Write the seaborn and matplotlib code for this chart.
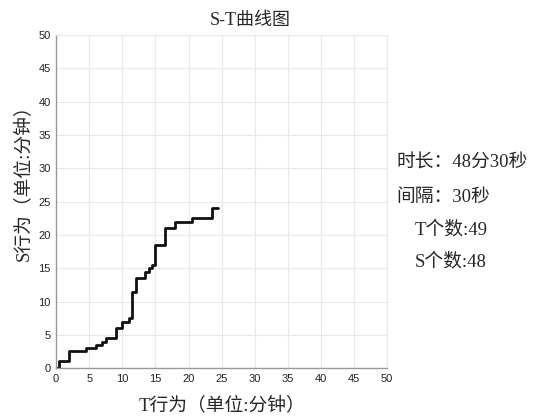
import matplotlib
matplotlib.use("Agg")
import matplotlib.pyplot as plt
import seaborn as sns
import pandas as pd

# Data: S-T curve vertices (minutes)
t_vals = [0, 0.5, 2, 4.5, 6, 7, 7.5, 9, 10, 11, 11.5, 12, 13.5, 14, 14.5, 15, 16.5, 18, 20.5, 23.5, 24.5]
s_vals = [0, 1, 2.5, 3, 3.5, 4, 4.5, 6, 7, 7.5, 11.5, 13.5, 14.5, 15, 15.5, 18.5, 21, 22, 22.5, 24, 24]
ticks = [0, 5, 10, 15, 20, 25, 30, 35, 40, 45, 50]
info_lines = ["时长：48分30秒", "间隔：30秒", "T个数:49", "S个数:48"]

sns.set_style("whitegrid")
plt.rcParams['font.family'] = ['Liberation Serif', 'Noto Sans CJK SC', 'DejaVu Sans']

df = pd.DataFrame({"T": t_vals, "S": s_vals})

fig = plt.figure(figsize=(5.34, 4.16), dpi=100)
ax = fig.add_axes([0.105, 0.115, 0.62, 0.801])

sns.lineplot(data=df, x="T", y="S", ax=ax, sort=False, estimator=None,
             drawstyle="steps-post", color="#111111", linewidth=2.0)

ax.set_xlim(0, 50)
ax.set_ylim(0, 50)
ax.set_xticks(ticks)
ax.set_yticks(ticks)
for lab in ax.get_xticklabels() + ax.get_yticklabels():
    lab.set_family(['Liberation Sans'])
    lab.set_fontsize(8)
ax.tick_params(axis='both', length=2, pad=2, colors="#222222")
ax.grid(True, color="#e8e8e8", linewidth=0.8)
for side in ["top", "right"]:
    ax.spines[side].set_color("#e8e8e8")
for side in ["left", "bottom"]:
    ax.spines[side].set_color("#999999")
    ax.spines[side].set_linewidth(1.0)

fig.text(250/534, 1 - 20/416, "S-T曲线图", fontsize=13, ha="center", va="center")
ax.set_xlabel("T行为（单位:分钟）", fontsize=13.5)
ax.xaxis.set_label_coords(0.5, -(406 - 368) / 333, transform=ax.transAxes)
ax.set_ylabel("S行为（单位:分钟）", fontsize=13.5)
ax.yaxis.set_label_coords(-(56 - 24) / 331, (368 - 178) / 333, transform=ax.transAxes)
ax.xaxis.label.set_verticalalignment("center")
ax.yaxis.label.set_verticalalignment("center")

fig.text(396/534, 1 - 163/416, info_lines[0], fontsize=13.5, va="center", ha="left")
fig.text(396/534, 1 - 197/416, info_lines[1], fontsize=13.5, va="center", ha="left")
fig.text(415/534, 1 - 230/416, info_lines[2], fontsize=13.5, va="center", ha="left")
fig.text(415/534, 1 - 262/416, info_lines[3], fontsize=13.5, va="center", ha="left")

fig.savefig("out.png", dpi=100)
